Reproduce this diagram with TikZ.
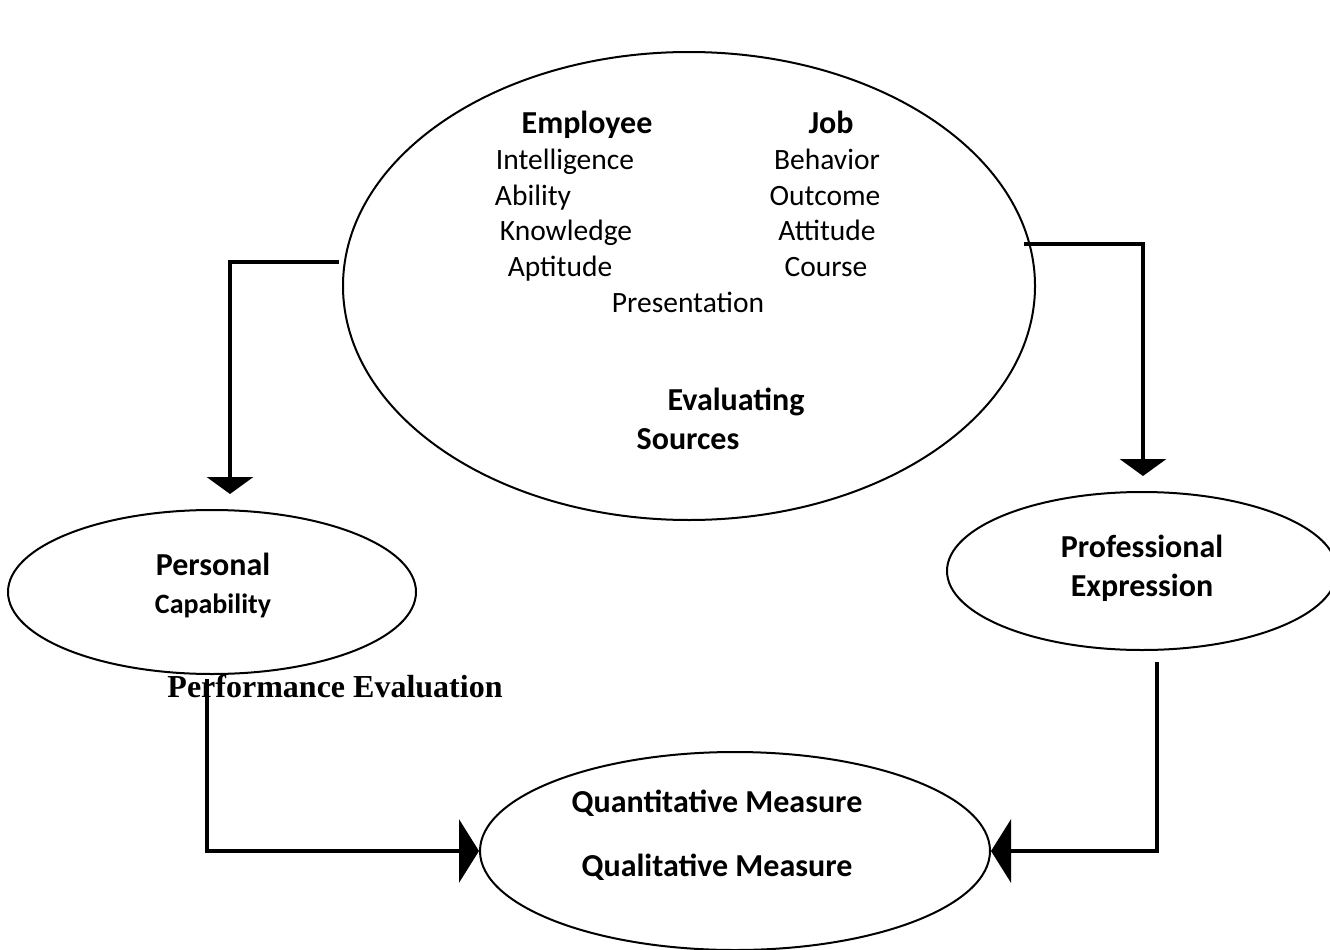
\documentclass[tikz,border=0pt]{standalone}
\usepackage{fontspec}
\setmainfont{Carlito}
\newfontfamily\timesfont{Liberation Serif}
\usetikzlibrary{positioning,arrows.meta,shapes.geometric}

\begin{document}
\begin{tikzpicture}[x=1pt,y=-1pt,
  oval/.style={draw,ellipse,line width=2pt,inner sep=0pt},
  word/.style={font=\fontsize{29.5}{35}\selectfont,inner sep=0pt,anchor=base},
  hd/.style={font=\fontsize{32}{38}\selectfont\bfseries,inner sep=0pt,anchor=base},
  arr/.style={line width=4pt,-{Triangle[width=46pt,length=17pt]}},
  big/.style={line width=4pt,-{Triangle[width=63pt,length=20pt]}}]
\useasboundingbox (0,0) rectangle (1330,950);
% ovals
\node[oval,minimum width=692pt,minimum height=468pt] (src) at (689,286) {};
\node[oval,minimum width=408pt,minimum height=164pt] (cap) at (212,592) {};
\node[oval,minimum width=390pt,minimum height=158pt] (expr) at (1142,571) {};
\node[oval,minimum width=510pt,minimum height=198pt] (meas) at (735,851) {};
% sources
\node[hd] (emp) at (587,133) {Employee};
\node[hd] (job) at (831,133) {Job};
\node[word] (intel) at (565,169) {Intelligence};
\node[word] (abil) at (533,205) {Ability};
\node[word] (know) at (566,240) {Knowledge};
\node[word] (apt) at (560,276) {Aptitude};
\node[word] (beh) at (827,169) {Behavior};
\node[word] (out) at (825,205) {Outcome};
\node[word] (att) at (827,240) {Attitude};
\node[word] (crs) at (826,276) {Course};
\node[word] (pres) at (688,312) {Presentation};
\node[hd] (evl) at (736,410) {Evaluating};
\node[hd] (srcs) at (688,449) {Sources};
% outcomes
\node[hd] (pers) at (213,575) {Personal};
\node[hd,font=\fontsize{28}{34}\selectfont\bfseries] (capb) at (213,613) {Capability};
\node[hd] (prof) at (1142,557) {Professional};
\node[hd] (expn) at (1142,596) {Expression};
\node[hd] (quan) at (717,812) {Quantitative Measure};
\node[hd] (qual) at (717,876) {Qualitative Measure};
% connectors
\draw[arr] ([xshift=-5pt]src.176) -| ([xshift=18pt,yshift=15pt]cap.north);
\draw[arr] ([xshift=-6pt]src.7) -| ([xshift=1pt,yshift=15pt]expr.north);
\draw[big] ([xshift=-5pt,yshift=-4pt]cap.south) |- (meas.west);
\draw[big] ([xshift=15pt,yshift=-11pt]expr.south) |- (meas.east);
\node[font=\timesfont\fontsize{32}{38}\selectfont\bfseries,inner sep=0pt,anchor=base] (perf) at (335,697) {Performance Evaluation};
\end{tikzpicture}
\end{document}
